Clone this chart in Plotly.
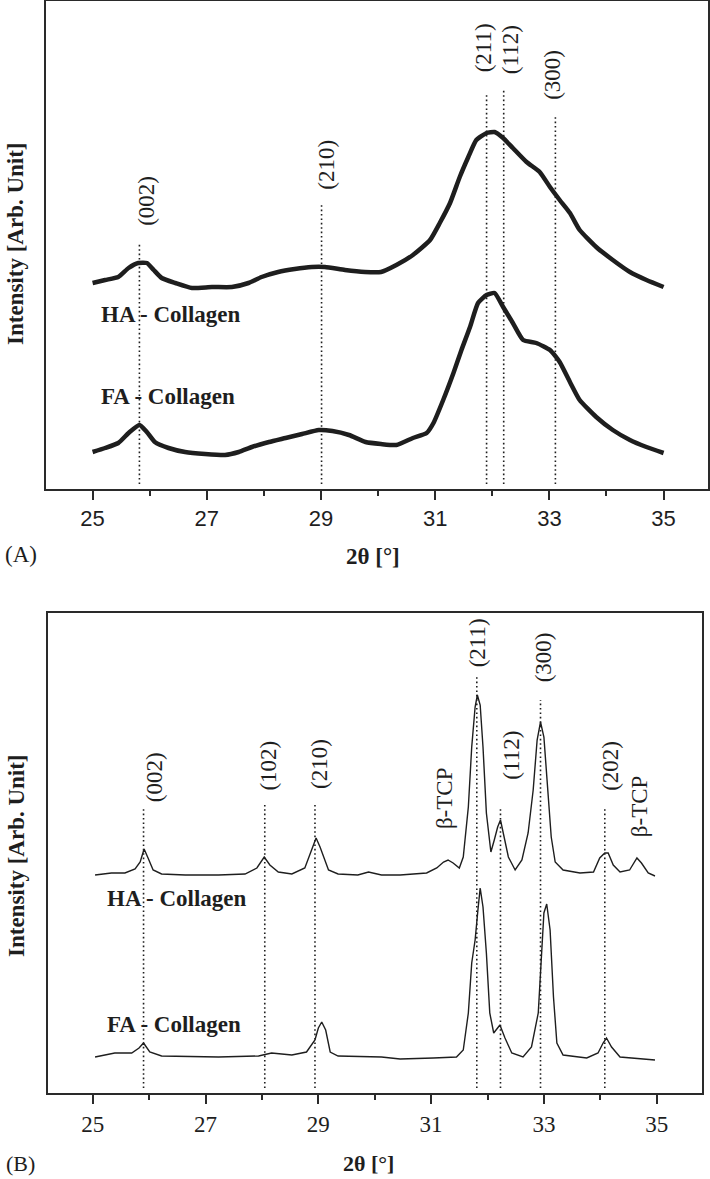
import plotly.graph_objects as go

# ---- panel A : broad patterns (2theta in deg, intensity in arb. units) ----
a_ha_theta = [25.00, 25.22, 25.45, 25.63, 25.80, 25.95, 26.07, 26.21, 26.45, 26.74, 27.09, 27.44,
              27.73, 27.96, 28.25, 28.54, 28.84, 29.07, 29.42, 29.77, 30.05, 30.32, 30.61, 30.91,
              31.08, 31.26, 31.43, 31.58, 31.72, 31.90, 32.04, 32.19, 32.36, 32.60, 32.83, 33.01,
              33.18, 33.36, 33.53, 33.82, 34.11, 34.41, 34.70, 35.00]
a_ha_int = [205, 208, 211, 220, 225, 225, 218, 210, 205, 200, 201, 201, 205, 211, 216, 219, 221,
            221, 218, 216, 216, 223, 233, 248, 265, 285, 311, 331, 348, 355, 356, 350, 340, 326,
            316, 301, 288, 275, 258, 241, 228, 216, 208, 201]

a_fa_theta = [25.00, 25.22, 25.45, 25.63, 25.82, 25.95, 26.09, 26.33, 26.62, 26.97, 27.32, 27.56,
              27.79, 28.09, 28.38, 28.67, 28.96, 29.20, 29.49, 29.78, 30.05, 30.32, 30.61, 30.85,
              30.97, 31.14, 31.32, 31.46, 31.61, 31.75, 31.90, 32.04, 32.19, 32.36, 32.54, 32.77,
              33.01, 33.18, 33.36, 33.53, 33.82, 34.11, 34.41, 34.70, 35.00]
a_fa_int = [36, 40, 45, 55, 63, 56, 46, 40, 36, 34, 33, 36, 41, 46, 50, 54, 58, 57, 53, 46, 44,
            43, 50, 55, 65, 88, 115, 138, 161, 185, 193, 195, 181, 165, 148, 145, 138, 126, 106,
            88, 71, 58, 48, 41, 35]

# ---- panel B : sharp patterns ----
b_ha_theta = [25.04, 25.33, 25.57, 25.75, 25.84, 25.91, 25.98, 26.07, 26.22, 26.64, 27.23, 27.70,
              27.91, 28.04, 28.14, 28.29, 28.53, 28.76, 28.88, 28.96, 29.03, 29.09, 29.18, 29.35,
              29.70, 29.89, 30.12, 30.45, 30.92, 31.10, 31.22, 31.30, 31.39, 31.50, 31.57, 31.66,
              31.72, 31.78, 31.82, 31.87, 31.92, 31.98, 32.06, 32.12, 32.18, 32.23, 32.29, 32.37,
              32.49, 32.61, 32.72, 32.81, 32.88, 32.94, 33.00, 33.07, 33.13, 33.20, 33.34, 33.64,
              33.88, 33.99, 34.08, 34.14, 34.23, 34.35, 34.52, 34.65, 34.73, 34.85, 34.97]
b_ha_int = [218, 220, 220, 224, 231, 244, 235, 223, 219, 218, 218, 219, 225, 236, 228, 221, 219,
            225, 243, 255, 246, 236, 223, 219, 218, 221, 218, 218, 220, 225, 231, 233, 230, 225,
            236, 286, 346, 386, 398, 388, 346, 280, 241, 253, 266, 273, 256, 236, 223, 233, 260,
            303, 353, 371, 356, 306, 256, 231, 223, 220, 221, 235, 240, 240, 228, 221, 223, 235,
            230, 220, 217]

b_fa_theta = [25.04, 25.39, 25.69, 25.82, 25.90, 26.01, 26.22, 27.23, 27.94, 28.17, 28.53, 28.79,
              28.94, 29.00, 29.06, 29.13, 29.21, 29.35, 30.12, 30.45, 31.04, 31.45, 31.57, 31.66,
              31.72, 31.78, 31.83, 31.87, 31.92, 31.98, 32.04, 32.11, 32.22, 32.31, 32.43, 32.63,
              32.78, 32.90, 32.96, 33.00, 33.05, 33.11, 33.17, 33.23, 33.34, 33.76, 33.96, 34.05,
              34.11, 34.20, 34.35, 34.97]
b_fa_int = [36, 40, 40, 45, 50, 41, 37, 36, 37, 40, 38, 41, 53, 65, 71, 63, 41, 37, 36, 34, 35,
            36, 43, 80, 130, 153, 183, 205, 186, 140, 80, 60, 68, 55, 40, 36, 46, 80, 140, 180,
            189, 163, 96, 50, 38, 35, 40, 50, 55, 46, 36, 33]

# reflections: position and top of the dotted marker, label text with its centre
a_refl = ["(002)", "(210)", "(211)", "(112)", "(300)"]
a_refl_pos = [25.82, 29.01, 31.90, 32.20, 33.105]
a_line_top = [245, 283, 395, 398, 372]
a_lab_x = [25.95, 29.10, 31.86, 32.33, 33.06]
a_lab_y = [287, 323, 440, 438, 413]

b_refl_pos = [25.90, 28.05, 28.94, 31.81, 32.23, 32.94, 34.08]
b_line_top = [286, 288, 288, 416, 286, 393, 284]
b_lab_text = ["(002)", "(102)", "(210)", "\u03b2-TCP", "(211)", "(112)", "(300)", "(202)", "\u03b2-TCP"]
b_lab_x = [26.09, 28.10, 29.01, 31.23, 31.82, 32.41, 32.99, 34.17, 34.69]
b_lab_y = [316, 327, 329, 295, 450, 338, 436, 327, 287]

W, H = 710, 1179
ink = "#1e1e1e"
serif = "Liberation Serif"

fig = go.Figure()
fig.add_trace(go.Scatter(x=a_ha_theta, y=a_ha_int, mode="lines", xaxis="x", yaxis="y",
                         line=dict(color=ink, width=4.5, shape="spline", smoothing=0.5)))
fig.add_trace(go.Scatter(x=a_fa_theta, y=a_fa_int, mode="lines", xaxis="x", yaxis="y",
                         line=dict(color=ink, width=4.5, shape="spline", smoothing=0.5)))
fig.add_trace(go.Scatter(x=b_ha_theta, y=b_ha_int, mode="lines", xaxis="x2", yaxis="y2",
                         line=dict(color=ink, width=1.4)))
fig.add_trace(go.Scatter(x=b_fa_theta, y=b_fa_int, mode="lines", xaxis="x2", yaxis="y2",
                         line=dict(color=ink, width=1.4)))

# dotted reflection markers
for pos, top in zip(a_refl_pos, a_line_top):
    fig.add_shape(type="line", xref="x", yref="y", x0=pos, x1=pos, y0=4, y1=top,
                  line=dict(color=ink, width=1.6, dash="1.6px,2.8px"))
for pos, top in zip(b_refl_pos, b_line_top):
    fig.add_shape(type="line", xref="x2", yref="y2", x0=pos, x1=pos, y0=5, y1=top,
                  line=dict(color=ink, width=1.6, dash="1.6px,2.8px"))

lab_font = dict(family=serif, size=23, color=ink)
ann = []
for t, x, y in zip(a_refl, a_lab_x, a_lab_y):
    ann.append(dict(text=t, x=x, y=y, xref="x", yref="y", textangle=-90, font=lab_font))
for t, x, y in zip(b_lab_text, b_lab_x, b_lab_y):
    ann.append(dict(text=t, x=x, y=y, xref="x2", yref="y2", textangle=-90, font=lab_font))

bold = dict(family=serif, size=23, color=ink)
ann += [
    dict(text="<b>HA - Collagen</b>", x=25.107, y=173, xref="x", yref="y", xanchor="left", font=bold),
    dict(text="<b>FA - Collagen</b>", x=25.107, y=91, xref="x", yref="y", xanchor="left", font=bold),
    dict(text="<b>HA - Collagen</b>", x=25.216, y=195, xref="x2", yref="y2", xanchor="left", font=bold),
    dict(text="<b>FA - Collagen</b>", x=25.216, y=69, xref="x2", yref="y2", xanchor="left", font=bold),
    dict(text="<b>Intensity [Arb. Unit]</b>", x=16 / W, y=1 - 244 / H, textangle=-90, font=bold),
    dict(text="<b>Intensity [Arb. Unit]</b>", x=16 / W, y=1 - 856 / H, textangle=-90, font=bold),
    dict(text="<b>2\u03b8 [\u00b0]</b>", x=373 / W, y=1 - 556 / H, font=bold),
    dict(text="<b>2\u03b8 [\u00b0]</b>", x=368 / W, y=1 - 1163 / H,
         font=dict(family=serif, size=22, color=ink)),
    dict(text="(A)", x=3 / W, y=1 - 555 / H, xanchor="left", font=lab_font),
    dict(text="(B)", x=4 / W, y=1 - 1163 / H, xanchor="left",
         font=dict(family=serif, size=22, color=ink)),
]
for a in ann:
    a.setdefault("xref", "paper")
    a.setdefault("yref", "paper")
    a.setdefault("xanchor", "center")
    a.setdefault("yanchor", "middle")
    a["showarrow"] = False

frame = dict(showline=True, linecolor="#2a2a2a", linewidth=2, mirror=True, showgrid=False,
             zeroline=False)
xcommon = dict(frame, tickmode="linear", tick0=25, dtick=2, ticks="outside", ticklen=9,
               tickwidth=1.5, tickcolor="#2a2a2a",
               minor=dict(ticks="outside", tick0=25, dtick=1, ticklen=5, tickwidth=1.5,
                          tickcolor="#2a2a2a"))

fig.update_layout(
    width=W, height=H, margin=dict(l=0, r=0, t=0, b=0),
    paper_bgcolor="white", plot_bgcolor="white", showlegend=False,
    xaxis=dict(xcommon, domain=[46 / W, 707.5 / W], range=[24.184, 35.769], anchor="y",
               tickfont=dict(family="Liberation Sans", size=22, color=ink)),
    yaxis=dict(frame, domain=[1 - 489 / H, 1 - 1 / H], range=[-1, 487], showticklabels=False,
               anchor="x"),
    xaxis2=dict(xcommon, domain=[48 / W, 701.5 / W], range=[24.2055, 35.795], anchor="y2",
                tickfont=dict(family=serif, size=23, color=ink)),
    yaxis2=dict(frame, domain=[1 - 1093 / H, 1 - 612.5 / H], range=[0, 480.5],
                showticklabels=False, anchor="x2"),
    annotations=ann,
)

# page margin off so the 710x1179 figure fills the window exactly
fig.write_html("out.html", config={"displayModeBar": False},
               post_script="document.body.style.margin='0';document.body.style.overflow='hidden';")
